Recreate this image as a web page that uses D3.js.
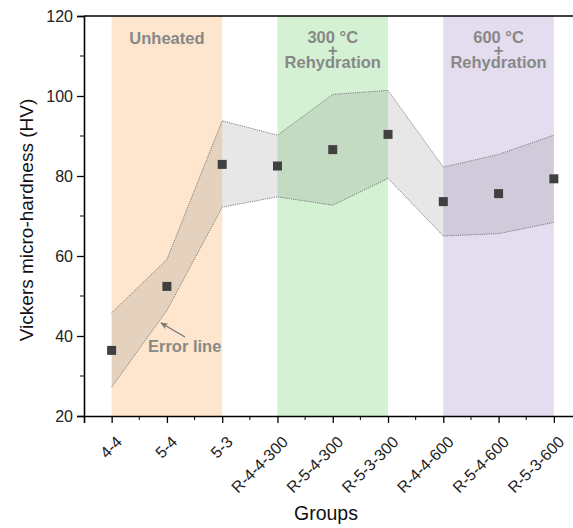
<!DOCTYPE html>
<html>
<head>
<meta charset="utf-8">
<script src="https://cdn.jsdelivr.net/npm/d3@7"></script>
<style>
  body { margin: 0; background: #fff; }
  svg { font-family: "Liberation Sans", Arial, sans-serif; display: block; }
</style>
</head>
<body>
<svg id="chart" width="573" height="528"></svg>
<script>
//Data
const groups = ['4-4', '5-4', '5-3', 'R-4-4-300', 'R-5-4-300', 'R-5-3-300', 'R-4-4-600', 'R-5-4-600', 'R-5-3-600'];
const hardness = [36.4, 52.4, 82.9, 82.5, 86.6, 90.4, 73.6, 75.6, 79.3];
const upperErr = [45.8, 59.1, 93.8, 90.2, 100.4, 101.4, 82.2, 85.4, 90.2];
const lowerErr = [27.2, 46.4, 72.2, 74.8, 72.7, 79.4, 65.0, 65.6, 68.4];
const yTicks = [20, 40, 60, 80, 100, 120];
//Shaded regions: start idx, end idx, label lines, colour
const regionStart = [0, 3, 6];
const regionEnd = [2, 5, 8];
const regionLabels = [['Unheated'], ['300 °C', '+', 'Rehydration'], ['600 °C', '+', 'Rehydration']];
const regionColors = ['#fde6cd', '#d4f1d4', '#e4dcef'];

const svg = d3.select('#chart');
const plotLeft = 84, plotTop = 16, plotBottom = 416;

//index scale so that half steps give the minor ticks
const x = d3.scaleLinear().domain([-0.5, 8.5]).range([plotLeft, 581.5]);
const y = d3.scaleLinear().domain([20, 120]).range([plotBottom, plotTop]);

//Shaded regions
regionStart.forEach(function(s, i) {
    svg.append('rect')
        .attr('x', x(s))
        .attr('y', plotTop)
        .attr('width', x(regionEnd[i]) - x(s))
        .attr('height', plotBottom - plotTop)
        .attr('fill', regionColors[i]);
});

//Error band
const pts = d3.range(groups.length);
svg.append('path')
    .datum(pts)
    .attr('fill', 'rgba(120,120,120,0.18)')
    .attr('d', d3.area()
        .x(function(d) { return x(d); })
        .y0(function(d) { return y(lowerErr[d]); })
        .y1(function(d) { return y(upperErr[d]); }));

[upperErr, lowerErr].forEach(function(arr) {
    svg.append('path')
        .datum(pts)
        .attr('fill', 'none')
        .attr('stroke', '#666')
        .attr('stroke-width', 0.8)
        .attr('stroke-dasharray', '1.2,1')
        .attr('d', d3.line()
            .x(function(d) { return x(d); })
            .y(function(d) { return y(arr[d]); }));
});

//Markers
svg.selectAll('rect.pt')
    .data(hardness)
    .enter().append('rect')
    .attr('class', 'pt')
    .attr('x', function(d, i) { return x(i) - 4.5; })
    .attr('y', function(d) { return y(d) - 4.5; })
    .attr('width', 9)
    .attr('height', 9)
    .attr('fill', '#404040');

//Region labels, one text per line
regionLabels.forEach(function(lines, i) {
    const cx = (x(regionStart[i]) + x(regionEnd[i])) / 2;
    const lineY = lines.length > 1 ? [43, 55.5, 68] : [43.5];
    lines.forEach(function(l, j) {
        svg.append('text')
            .attr('x', cx)
            .attr('y', lineY[j])
            .attr('text-anchor', 'middle')
            .attr('font-weight', 'bold')
            .attr('font-size', 16.5)
            .attr('fill', '#888')
            .text(l);
    });
});

//Error line annotation
svg.append('defs').append('marker')
    .attr('id', 'arrow')
    .attr('viewBox', '0 0 10 10')
    .attr('refX', 9).attr('refY', 5)
    .attr('markerWidth', 6).attr('markerHeight', 6)
    .attr('orient', 'auto')
    .append('path')
    .attr('d', 'M0,1 L10,5 L0,9 L3,5 Z')
    .attr('fill', '#777');

svg.append('line')
    .attr('x1', 185).attr('y1', 337)
    .attr('x2', 161).attr('y2', 323)
    .attr('stroke', '#777')
    .attr('stroke-width', 1.3)
    .attr('marker-end', 'url(#arrow)');

svg.append('text')
    .attr('x', 148).attr('y', 352)
    .attr('font-size', 16.5)
    .attr('font-weight', 'bold')
    .attr('fill', '#888')
    .text('Error line');

//Y axis (major + minor ticks)
const yAxis = svg.append('g').attr('transform', 'translate(' + plotLeft + ',0)');
yAxis.call(d3.axisLeft(y).tickValues(yTicks).tickSize(7).tickPadding(4));
yAxis.append('g').selectAll('line')
    .data(d3.range(30, 120, 20))
    .enter().append('line')
    .attr('x1', -4).attr('x2', 0)
    .attr('y1', function(d) { return y(d); })
    .attr('y2', function(d) { return y(d); })
    .attr('stroke', '#000');

//X axis
const xAxis = svg.append('g').attr('transform', 'translate(0,' + plotBottom + ')');
xAxis.call(d3.axisBottom(x).tickValues(pts).tickSize(7).tickFormat(function(d) { return groups[d]; }));
xAxis.append('g').selectAll('line')
    .data(d3.range(-0.5, 8.6, 1).slice(1))
    .enter().append('line')
    .attr('x1', function(d) { return x(d); })
    .attr('x2', function(d) { return x(d); })
    .attr('y1', 0).attr('y2', 4)
    .attr('stroke', '#000');
xAxis.selectAll('.tick text')
    .attr('font-size', 16)
    .attr('text-anchor', 'end')
    .attr('dy', null)
    .attr('dx', null)
    .attr('transform', 'translate(11,27) rotate(-45)')
    .attr('y', 0).attr('x', 0)
    .attr('fill', '#222');

[yAxis, xAxis].forEach(function(a) {
    a.select('.domain').attr('stroke-width', 1.6);
    a.selectAll('.tick line').attr('stroke-width', 1.3);
});
yAxis.selectAll('.tick text').attr('font-size', 16).attr('fill', '#222');

//Top border
svg.append('line')
    .attr('x1', plotLeft).attr('x2', 581.5)
    .attr('y1', plotTop).attr('y2', plotTop)
    .attr('stroke', '#000')
    .attr('stroke-width', 1.6);

//Axis titles
svg.append('text')
    .attr('transform', 'translate(33,220) rotate(-90)')
    .attr('text-anchor', 'middle')
    .attr('font-size', 19)
    .attr('fill', '#111')
    .text('Vickers micro-hardness (HV)');

svg.append('text')
    .attr('x', 326).attr('y', 520)
    .attr('text-anchor', 'middle')
    .attr('font-size', 19.5)
    .attr('fill', '#111')
    .text('Groups');
</script>
</body>
</html>
